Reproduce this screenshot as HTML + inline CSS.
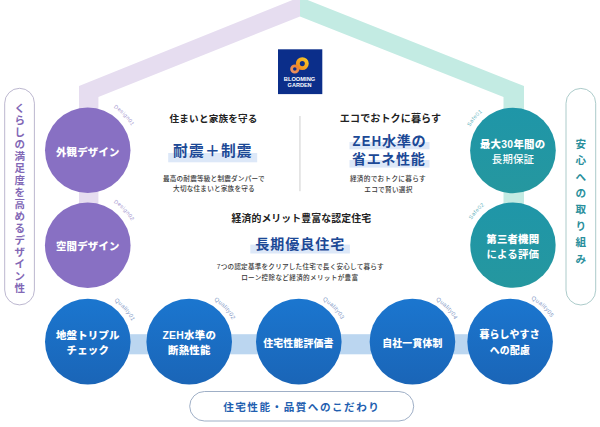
<!DOCTYPE html>
<html lang="ja">
<head>
<meta charset="utf-8">
<title>BLOOMING GARDEN</title>
<style>
html,body{margin:0;padding:0;background:#fff;}
body{width:600px;height:427px;overflow:hidden;position:relative;}
svg{display:block;position:absolute;left:0;top:0;}
text{font-family:"Liberation Sans","Noto Sans CJK JP",sans-serif;}
.cw{fill:#fff;font-weight:900;font-size:10.4px;letter-spacing:0.2px;}
.cw2{fill:#fff;font-weight:500;font-size:10.4px;letter-spacing:0.2px;}
.h{fill:#222;font-weight:700;font-size:9.6px;letter-spacing:0.1px;}
.t{fill:#1c4996;font-weight:700;font-size:14.6px;letter-spacing:0.6px;}
.t2{fill:#1c4996;font-weight:700;font-size:14.7px;letter-spacing:1.3px;}
.d{fill:#383838;font-weight:500;font-size:6.6px;letter-spacing:0.22px;}
.vl{fill:#8268b6;font-weight:700;font-size:10.5px;}
.vr{fill:#2a8f9c;font-weight:700;font-size:10.6px;}
.bp{fill:#1f5fb0;font-weight:700;font-size:10.6px;letter-spacing:1.5px;}
.lab{font-size:6px;letter-spacing:0.4px;font-weight:400;}
.lp{fill:#a497cf;font-size:5.4px;}
.lt{fill:#5fb2bd;font-size:5.4px;}
.lb{fill:#8499c6;font-size:5.8px;letter-spacing:0.3px;}
.logo{fill:#fff;font-weight:700;font-size:6.1px;}
</style>
</head>
<body>
<svg width="600" height="427" viewBox="0 0 600 427">
<defs>
<linearGradient id="gb" x1="0" y1="0" x2="0" y2="1">
<stop offset="0" stop-color="#1b76cf"/><stop offset="1" stop-color="#1a65b7"/>
</linearGradient>
<linearGradient id="gt" x1="0" y1="0" x2="0" y2="1"><stop offset="0" stop-color="#1f96a8"/><stop offset="1" stop-color="#25979f"/></linearGradient>
<linearGradient id="gr1" x1="1" y1="0" x2="0" y2="1"><stop offset="0" stop-color="#f6c526"/><stop offset="1" stop-color="#ef8a1f"/></linearGradient>
<linearGradient id="gr2" x1="1" y1="0" x2="0" y2="1"><stop offset="0" stop-color="#f0812a"/><stop offset="1" stop-color="#e9936a"/></linearGradient>
<path id="pd1" d="M113.60,107.62 A49.9,49.9 0 0 1 137.46,145.95" fill="none"/><path id="pd2" d="M113.60,202.52 A49.9,49.9 0 0 1 137.46,240.85" fill="none"/><path id="ps1" d="M470.09,126.74 A49.0,49.0 0 0 1 504.44,102.24" fill="none"/><path id="ps2" d="M471.56,219.63 A48.6,48.6 0 0 1 504.51,197.24" fill="none"/><path id="pq1" d="M114.16,301.06 A48.4,48.4 0 0 1 136.02,345.87" fill="none"/><path id="pq2" d="M213.95,300.29 A48.2,48.2 0 0 1 237.22,345.85" fill="none"/><path id="pq3" d="M322.56,300.17 A47.8,47.8 0 0 1 346.42,345.82" fill="none"/><path id="pq4" d="M435.67,300.44 A47.3,47.3 0 0 1 459.57,345.77" fill="none"/><path id="pq5" d="M531.09,299.37 A47.2,47.2 0 0 1 557.12,345.76" fill="none"/>
</defs>
<!-- roof bands -->
<polygon points="300,-3 79,86 79,250 98.4,250 98.4,97 300,16.5" fill="#e6ddf0"/>
<polygon points="300,-3 524,86 524,250 503.5,250 503.5,97 300,16.5" fill="#c3ebe3"/>
<!-- bottom connector bar -->
<rect x="88" y="334.2" width="423" height="20.1" fill="#bbd6f0"/>
<!-- circles -->
<circle cx="87.75" cy="150.3" r="42.75" fill="#8870c3"/>
<circle cx="87.75" cy="245.2" r="42.8" fill="#8870c3"/>
<circle cx="512.95" cy="150.5" r="42.85" fill="url(#gt)"/>
<circle cx="512.95" cy="245.1" r="42.7" fill="url(#gt)"/>
<circle cx="87.8" cy="341.65" r="42.8" fill="url(#gb)"/><circle cx="189.2" cy="341.65" r="42.8" fill="url(#gb)"/><circle cx="298.8" cy="341.65" r="42.8" fill="url(#gb)"/><circle cx="412.45" cy="341.65" r="42.8" fill="url(#gb)"/><circle cx="510.1" cy="341.65" r="42.8" fill="url(#gb)"/>
<!-- side pills -->
<rect x="4.7" y="88.3" width="29.7" height="216.6" rx="14.85" fill="#fff" stroke="#b4afca" stroke-width="0.9"/>
<rect x="566" y="88.4" width="29.7" height="216.6" rx="14.85" fill="#fff" stroke="#a3c5c4" stroke-width="0.9"/>
<rect x="189.7" y="391.5" width="224" height="29.5" rx="14.75" fill="#fff" stroke="#94a6c0" stroke-width="0.9"/>
<!-- logo -->
<rect x="278" y="49.3" width="44.3" height="44.8" fill="#0b2e8a"/>
<circle cx="302.3" cy="63.6" r="4.5" fill="none" stroke="url(#gr1)" stroke-width="3.9"/>
<circle cx="294.8" cy="69" r="3.2" fill="none" stroke="url(#gr2)" stroke-width="2.8"/>
<text class="logo" x="283.8" y="80.8" textLength="31.4" lengthAdjust="spacingAndGlyphs">BLOOMING</text>
<text class="logo" x="287.6" y="86.9" textLength="24" lengthAdjust="spacingAndGlyphs">GARDEN</text>
<!-- divider -->
<rect x="299.5" y="116" width="0.9" height="75.2" fill="#c9c9c9"/>
<!-- highlights -->
<rect x="168.2" y="153" width="89" height="9.3" fill="#dde8f8"/>
<rect x="349.5" y="142" width="80" height="7.3" fill="#dde8f8"/>
<rect x="349.5" y="160" width="80" height="7.6" fill="#dde8f8"/>
<rect x="250.3" y="244.6" width="99.6" height="8.9" fill="#dde8f8"/>
<!-- circle labels -->
<g>
<text class="cw" x="87.8" y="155.6" text-anchor="middle">外観デザイン</text>
<text class="cw" x="87.8" y="249.8" text-anchor="middle">空間デザイン</text>
<text class="cw" x="512.7" y="148.3" text-anchor="middle" style="letter-spacing:0.3px">最大30年間の</text>
<text class="cw2" x="513" y="163.3" text-anchor="middle">長期保証</text>
<text class="cw" x="512.8" y="243.1" text-anchor="middle">第三者機関</text>
<text class="cw" x="512.8" y="257.9" text-anchor="middle" style="font-weight:700">による評価</text>
<text class="cw" x="87.8" y="339.3" text-anchor="middle">地盤トリプル</text>
<text class="cw" x="87.8" y="354.2" text-anchor="middle">チェック</text>
<text class="cw" x="189.3" y="339.3" text-anchor="middle" style="letter-spacing:0.3px">ZEH水準の</text>
<text class="cw" x="189.3" y="354.3" text-anchor="middle">断熱性能</text>
<text class="cw" x="298.4" y="347.4" text-anchor="middle" style="font-size:9.9px">住宅性能評価書</text>
<text class="cw" x="412.4" y="347.4" text-anchor="middle" style="font-size:9.9px">自社一貫体制</text>
<text class="cw" x="509.6" y="337.8" text-anchor="middle" style="font-size:9.9px">暮らしやすさ</text>
<text class="cw" x="509.9" y="353.5" text-anchor="middle" style="font-size:9.9px">への配慮</text>
<!-- centre text -->
<text class="h" x="213.6" y="122.3" text-anchor="middle" style="letter-spacing:0.2px">住まいと家族を守る</text>
<text class="t2" x="212.9" y="156.1" text-anchor="middle">耐震＋制震</text>
<text class="d" x="213.8" y="181.4" text-anchor="middle">最高の耐震等級と制震ダンパーで</text>
<text class="d" x="214" y="191.4" text-anchor="middle">大切な住まいと家族を守る</text>
<text class="h" x="390.5" y="121.8" text-anchor="middle" style="font-size:10.05px">エコでおトクに暮らす</text>
<text class="t" transform="translate(352.6,146.2) scale(0.86,1)" style="font-size:15px;letter-spacing:1.6px">ZEH</text><text class="t" x="381.9" y="146" style="font-size:14.2px;letter-spacing:0.6px">水準の</text>
<text class="t" x="388.7" y="164.2" text-anchor="middle" style="font-size:14px;letter-spacing:0.7px">省エネ性能</text>
<text class="d" x="387.9" y="181.3" text-anchor="middle" style="font-size:6.65px;letter-spacing:0.28px">経済的でおトクに暮らす</text>
<text class="d" x="388.5" y="191.5" text-anchor="middle" style="font-size:6.65px;letter-spacing:0.28px">エコで賢い選択</text>
<text class="h" x="301.3" y="222.1" text-anchor="middle" style="font-size:9.9px">経済的メリット豊富な認定住宅</text>
<text class="t" x="300.2" y="248.7" text-anchor="middle" style="font-size:14px;letter-spacing:1px">長期優良住宅</text>
<text class="d" x="300.3" y="269.4" text-anchor="middle">7つの認定基準をクリアした住宅で長く安心して暮らす</text>
<text class="d" x="299.8" y="280.2" text-anchor="middle" style="letter-spacing:0.32px">ローン控除など経済的メリットが豊富</text>
<text class="bp" x="301.8" y="410.6" text-anchor="middle">住宅性能・品質へのこだわり</text>
<text class="vl" x="19.7 19.7 19.7 19.7 19.7 19.7 19.7 19.7 19.7 19.7 19.7 19.7 19.7 19.7 19.7 19.7" y="111.8 123.8 135.9 147.9 159.9 171.9 184.0 196.0 208.0 220.1 232.1 244.1 256.2 268.2 280.2 292.2" text-anchor="middle">くらしの満足度を高めるデザイン性</text>
<text class="vr" x="580.8 580.8 580.8 580.8 580.8 580.8 580.8 580.8" y="147.8 164.2 180.6 196.9 213.3 229.7 246.1 262.5" text-anchor="middle">安心への取り組み</text>
</g>
<text class="lab lp"><textPath href="#pd1" startOffset="0">Design01</textPath></text><text class="lab lp"><textPath href="#pd2" startOffset="0">Design02</textPath></text><text class="lab lt"><textPath href="#ps1" startOffset="0">Safe01</textPath></text><text class="lab lt"><textPath href="#ps2" startOffset="0">Safe02</textPath></text><text class="lab lb"><textPath href="#pq1" startOffset="0">Quality01</textPath></text><text class="lab lb"><textPath href="#pq2" startOffset="0">Quality02</textPath></text><text class="lab lb"><textPath href="#pq3" startOffset="0">Quality03</textPath></text><text class="lab lb"><textPath href="#pq4" startOffset="0">Quality04</textPath></text><text class="lab lb"><textPath href="#pq5" startOffset="0">Quality05</textPath></text>
</svg>
</body>
</html>
